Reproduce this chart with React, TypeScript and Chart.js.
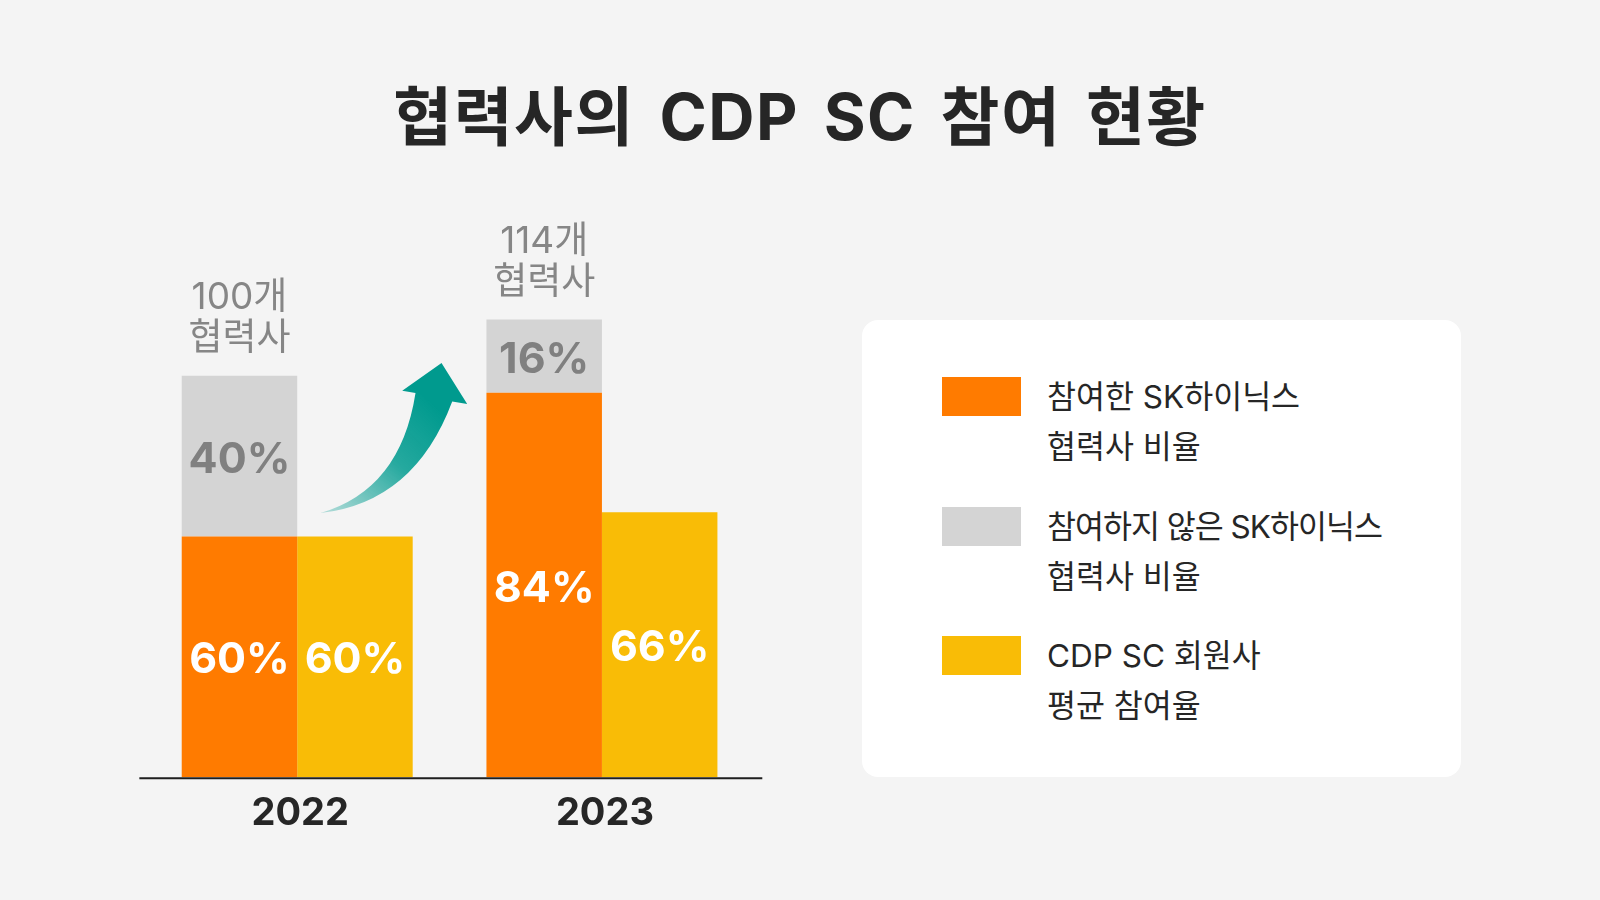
import React, { useEffect, useRef } from 'react';
import { Chart, registerables } from 'chart.js';

Chart.register(...registerables);

const TITLE = '협력사의 CDP SC 참여 현황';
const years = ['2022', '2023'];
const partnerCounts = [100, 114];
const participatedPct = [60, 84];
const notParticipatedPct = [40, 16];
const cdpAvgPct = [60, 66];
const countSuffix = '개';
const countLine2 = '협력사';
const seriesNames = [
  ['참여한 SK하이닉스', '협력사 비율'],
  ['참여하지 않은 SK하이닉스', '협력사 비율'],
  ['CDP SC 회원사', '평균 참여율'],
];
const seriesColors = ['#FF7B00', '#D4D4D4', '#F9BC06'];
const labelColors = ['#FFFFFF', '#808080', '#FFFFFF'];

const FONT = "Inter, 'Noto Sans CJK KR', sans-serif";

// bar heights: SK partner shares are scaled by the number of partners
const participatedUnits = participatedPct.map((p, i) => (p * partnerCounts[i]) / 100);
const notParticipatedUnits = notParticipatedPct.map((p, i) => (p * partnerCounts[i]) / 100);

const baselinePlugin = {
  id: 'baselinePlugin',
  afterDatasetsDraw(chart: any) {
    const { ctx, chartArea, scales } = chart;
    const y0 = scales.y.getPixelForValue(0);
    ctx.save();
    ctx.strokeStyle = '#1E1E1E';
    ctx.lineWidth = 2;
    ctx.beginPath();
    ctx.moveTo(chartArea.left - 5.5, y0 + 1);
    ctx.lineTo(chartArea.right + 8, y0 + 1);
    ctx.stroke();
    ctx.restore();
  },
};

const arrowPlugin = {
  id: 'arrowPlugin',
  afterDatasetsDraw(chart: any) {
    const { ctx } = chart;
    const bar = chart.getDatasetMeta(0).data[0];
    if (!bar) return;
    const p = bar.getProps(['x', 'y', 'width'], true);
    const ax = p.x + p.width / 2;
    const ay = p.y;
    const P = (dx: number, dy: number) => [ax + dx, ay + dy];
    const T = P(23.3, -23.4);
    const upC = P(103.3, -46.7);
    const shL = P(118.3, -143.4);
    const barbL = P(105, -145.7);
    const tip = P(144.3, -173.4);
    const barbR = P(170, -132.4);
    const shR = P(155, -135);
    const loC = P(117.3, -34.1);
    ctx.save();
    const g = ctx.createLinearGradient(T[0] + 10, T[1], tip[0] - 10, tip[1] + 40);
    g.addColorStop(0, 'rgba(0,155,143,0.30)');
    g.addColorStop(0.55, 'rgba(0,155,143,0.85)');
    g.addColorStop(1, 'rgba(0,154,142,1)');
    ctx.fillStyle = g;
    ctx.beginPath();
    ctx.moveTo(T[0], T[1]);
    ctx.quadraticCurveTo(upC[0], upC[1], shL[0], shL[1]);
    ctx.lineTo(barbL[0], barbL[1]);
    ctx.lineTo(tip[0], tip[1]);
    ctx.lineTo(barbR[0], barbR[1]);
    ctx.lineTo(shR[0], shR[1]);
    ctx.quadraticCurveTo(loC[0], loC[1], T[0], T[1]);
    ctx.closePath();
    ctx.fill();
    ctx.restore();
  },
};

const labelsPlugin = {
  id: 'labelsPlugin',
  afterDatasetsDraw(chart: any) {
    const { ctx } = chart;
    const pctSets = [participatedPct, notParticipatedPct, cdpAvgPct];
    ctx.save();
    ctx.textAlign = 'center';
    ctx.textBaseline = 'alphabetic';
    ctx.font = `bold 43px ${FONT}`;
    chart.data.datasets.forEach((_ds: any, di: number) => {
      const meta = chart.getDatasetMeta(di);
      meta.data.forEach((bar: any, i: number) => {
        const { x, y, base } = bar.getProps(['x', 'y', 'base'], true);
        const cy = (y + base) / 2;
        ctx.fillStyle = labelColors[di];
        ctx.fillText(`${pctSets[di][i]}%`, x, cy + 16.5);
      });
    });
    const topMeta = chart.getDatasetMeta(1);
    ctx.font = `37px ${FONT}`;
    ctx.fillStyle = '#868686';
    topMeta.data.forEach((bar: any, i: number) => {
      const { x, y } = bar.getProps(['x', 'y'], true);
      ctx.fillText(`${partnerCounts[i]}${countSuffix}`, x, y - 66.7);
      ctx.fillText(countLine2, x, y - 26);
    });
    ctx.restore();
  },
};

function BarChart() {
  const ref = useRef<HTMLCanvasElement | null>(null);
  useEffect(() => {
    if (!ref.current) return;
    const chart = new Chart(ref.current, {
      type: 'bar',
      data: {
        labels: years,
        datasets: [
          {
            label: seriesNames[0].join(' '),
            data: participatedUnits,
            backgroundColor: seriesColors[0],
            stack: 'sk',
            borderWidth: 0,
          },
          {
            label: seriesNames[1].join(' '),
            data: notParticipatedUnits,
            backgroundColor: seriesColors[1],
            stack: 'sk',
            borderWidth: 0,
          },
          {
            label: seriesNames[2].join(' '),
            data: cdpAvgPct,
            backgroundColor: seriesColors[2],
            stack: 'cdp',
            borderWidth: 0,
          },
        ],
      },
      options: {
        responsive: false,
        animation: false,
        events: [],
        layout: { padding: { left: 144.85, right: 845.7, top: 295.5, bottom: 62.7 } },
        datasets: { bar: { categoryPercentage: 0.758, barPercentage: 1.0 } },
        plugins: { legend: { display: false }, tooltip: { enabled: false }, title: { display: false } },
        scales: {
          x: {
            stacked: true,
            grid: { display: false, drawTicks: false },
            border: { display: false },
            ticks: {
              color: '#262626',
              padding: 13,
              labelOffset: 3,
              font: { family: FONT, size: 38, weight: 'bold' },
            },
            afterFit: (scale: any) => {
              scale.height = 60;
            },
          },
          y: {
            stacked: true,
            display: false,
            min: 0,
            max: 120,
          },
        },
      } as any,
      plugins: [baselinePlugin, arrowPlugin, labelsPlugin],
    });
    return () => chart.destroy();
  }, []);
  return (
    <canvas
      ref={ref}
      width={1600}
      height={900}
      style={{ position: 'absolute', left: 0, top: 0, width: 1600, height: 900 }}
    />
  );
}

export default function App() {
  return (
    <div
      style={{
        position: 'fixed',
        left: 0,
        top: 0,
        width: 1600,
        height: 900,
        background: '#F4F4F4',
        overflow: 'hidden',
        fontFamily: FONT,
      }}
    >
      <div
        style={{
          position: 'absolute',
          left: 0,
          top: 85,
          width: 1600,
          textAlign: 'center',
          fontSize: 64,
          fontWeight: 700,
          lineHeight: '64px',
          letterSpacing: '1.5px',
          wordSpacing: '8px',
          color: '#262626',
          whiteSpace: 'nowrap',
        }}
      >
        {TITLE}
      </div>
      <BarChart />
      <div
        style={{
          position: 'absolute',
          left: 862,
          top: 320,
          width: 599,
          height: 457,
          background: '#FFFFFF',
          borderRadius: 16,
        }}
      >
        {seriesNames.map((lines, i) => (
          <React.Fragment key={i}>
            <div
              style={{
                position: 'absolute',
                left: 80,
                top: 57.3 + i * 129.5,
                width: 79,
                height: 39,
                background: seriesColors[i],
              }}
            />
            <div
              style={{
                position: 'absolute',
                left: 185,
                top: 52 + i * 129.5,
                fontSize: 31.5,
                lineHeight: '50px',
                color: '#262626',
                whiteSpace: 'nowrap',
              }}
            >
              {lines.map((t, j) => (
                <div key={j} style={{ letterSpacing: t.length > 12 ? '-1px' : '0px' }}>
                  {t}
                </div>
              ))}
            </div>
          </React.Fragment>
        ))}
      </div>
    </div>
  );
}
